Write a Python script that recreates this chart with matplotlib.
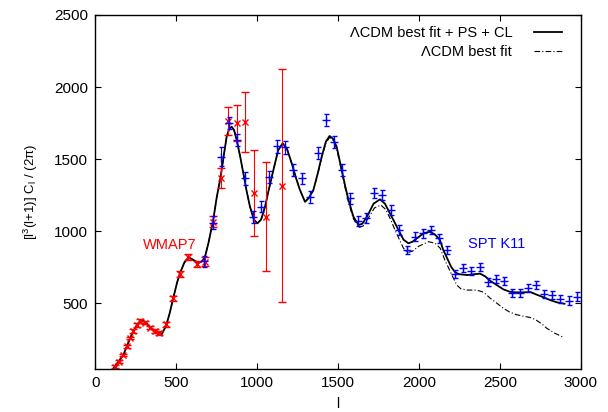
import numpy as np
import matplotlib
matplotlib.use('Agg')
import matplotlib.pyplot as plt

plt.rcParams['font.family'] = ['Liberation Sans', 'DejaVu Sans']
plt.rcParams['mathtext.fontset'] = 'custom'
plt.rcParams['mathtext.rm'] = 'Liberation Sans'
plt.rcParams['mathtext.it'] = 'Liberation Sans:italic'

# WMAP7 bandpowers (red)
wmap_l = [122, 144, 174, 195, 216, 235, 256, 277, 308, 340, 369, 391, 437, 478, 523,
          575, 627, 678, 725, 775, 822, 874, 925, 978, 1053, 1152]
wmap_d = [58, 93, 139, 201, 257, 306, 347, 375, 363, 330, 306, 290, 352, 533, 701,
          817, 771, 787, 1065, 1366, 1764, 1748, 1757, 1266, 1099, 1315]
wmap_err = [10, 10, 10, 10, 10, 11, 12, 12, 12, 12, 13, 14, 15, 16, 18,
            20, 22, 30, 40, 70, 98, 125, 210, 300, 380, 810]

# SPT K11 bandpowers (blue)
spt_l = list(range(675, 3000, 50))
spt_d = [790, 1058, 1516, 1750, 1632, 1366, 1099, 1169, 1377, 1590, 1581, 1424,
         1366, 1238, 1540, 1771, 1620, 1424, 1227, 1072, 1088, 1262, 1250, 1146,
         1007, 868, 960, 984, 1007, 949, 868, 701, 741, 724, 752, 648, 665, 655,
         572, 572, 602, 625, 560, 556, 528, 516, 544]
spt_err = [40, 43, 65, 45, 45, 45, 42, 40, 42, 45, 45, 42, 40, 40, 42, 45, 42,
           40, 38, 35, 35, 36, 36, 34, 32, 30, 30, 30, 30, 30, 28, 28, 28, 28,
           28, 28, 28, 28, 28, 28, 28, 28, 28, 28, 30, 30, 32]

# LCDM best fit + PS + CL (solid)
fit_l = [113, 144, 174, 195, 216, 235, 256, 277, 290, 310, 340, 370, 395, 410,
         437, 460, 484, 505, 523, 550, 577, 605, 638, 660, 678, 700, 729, 750,
         775, 795, 812, 828, 843, 858, 874, 895, 915, 935, 956, 980, 1002, 1025,
         1049, 1075, 1101, 1130, 1158, 1185, 1214, 1240, 1265, 1296, 1320, 1348,
         1375, 1399, 1425, 1448, 1470, 1492, 1523, 1545, 1565, 1595, 1627, 1650,
         1679, 1720, 1760, 1790, 1821, 1850, 1874, 1905, 1935, 1960, 1987, 2030,
         2069, 2100, 2130, 2150, 2175, 2200, 2225, 2250, 2300, 2340, 2378, 2410,
         2440, 2481, 2522, 2563, 2600, 2640, 2690, 2728, 2770, 2810, 2852, 2900]
fit_d = [47, 95, 140, 200, 257, 305, 345, 375, 380, 368, 330, 300, 280, 282,
         340, 430, 544, 640, 706, 780, 818, 800, 778, 790, 820, 920, 1076, 1230,
         1377, 1530, 1655, 1710, 1724, 1700, 1632, 1520, 1401, 1280, 1169, 1080,
         1053, 1080, 1169, 1300, 1424, 1560, 1609, 1570, 1470, 1370, 1285, 1203,
         1230, 1285, 1400, 1516, 1620, 1660, 1640, 1585, 1424, 1310, 1215, 1100,
         1042, 1050, 1099, 1190, 1220, 1190, 1123, 1060, 1007, 940, 915, 925, 949,
         985, 995, 975, 938, 870, 810, 750, 712, 700, 694, 700, 704, 685, 655, 625,
         595, 578, 574, 574, 576, 558, 540, 521, 505, 495]

# LCDM best fit (dash-dot), departs from the solid curve above l ~ 1350
lcdm_tail_l = [1375, 1399, 1425, 1448, 1470, 1492, 1523, 1545, 1565, 1595, 1630,
               1655, 1685, 1725, 1765, 1795, 1825, 1855, 1880, 1905, 1930, 1960,
               2000, 2060, 2100, 2132, 2160, 2183, 2210, 2234, 2260, 2300, 2357,
               2400, 2439, 2480, 2524, 2560, 2600, 2640, 2687, 2720, 2760, 2790,
               2841, 2893]
lcdm_tail_d = [1395, 1505, 1610, 1650, 1630, 1570, 1410, 1295, 1200, 1085, 1025,
               1035, 1085, 1160, 1180, 1150, 1080, 1000, 940, 880, 850, 860, 895,
               926, 915, 880, 800, 745, 680, 625, 598, 590, 590, 575, 535, 500, 462,
               438, 420, 410, 400, 385, 355, 325, 290, 262]

fit_l = np.array(fit_l)
fit_d = np.array(fit_d)
keep = fit_l < 1350
lcdm_l = np.concatenate([fit_l[keep], lcdm_tail_l])
lcdm_d = np.concatenate([fit_d[keep], lcdm_tail_d])

fig = plt.figure(figsize=(6.08, 4.12), dpi=100)
ax = fig.add_axes([0.1567, 0.1044, 0.7984, 0.8592])

line_lcdm, = ax.plot(lcdm_l, lcdm_d, color='black', lw=0.8, dashes=(5, 2, 1, 2))
line_fit, = ax.plot(fit_l, fit_d, color='black', lw=1.3)

ax.errorbar(wmap_l, wmap_d, yerr=wmap_err, fmt='x', color='red', ms=4.5, mew=1.0,
            elinewidth=0.8, capsize=3, capthick=0.8)
ax.errorbar(spt_l, spt_d, yerr=spt_err, fmt='+', color='blue', ms=5.5, mew=1.0,
            elinewidth=0.8, capsize=1.8, capthick=0.8)

ax.text(295, 903, 'WMAP7', color='red', fontsize=10.5, va='center')
ax.text(2303, 910, 'SPT K11', color='blue', fontsize=10.5, va='center')

ax.set_xlim(0, 3000)
ax.set_ylim(42, 2500)
ax.set_xticks(range(0, 3001, 500))
ax.set_yticks(range(500, 2501, 500))
ax.tick_params(direction='in', top=True, right=True, length=4, width=0.8,
               labelsize=11, pad=5)
for s in ax.spines.values():
    s.set_linewidth(1.0)

ax.set_xlabel('l', fontsize=10, labelpad=5)
ax.set_ylabel(r'[l$^{\rm 3}$(l+1)] C$_{\rm l}$ / (2π)', fontsize=9.5, labelpad=10)

leg1 = ax.legend([line_fit], ['ΛCDM best fit + PS + CL'], loc='center right',
                 bbox_to_anchor=(0.961, 0.949), frameon=False, markerfirst=False,
                 fontsize=10.5, handlelength=1.9, handletextpad=1.5, borderpad=0,
                 borderaxespad=0)
ax.add_artist(leg1)
ax.legend([line_lcdm], ['ΛCDM best fit'], loc='center right',
          bbox_to_anchor=(0.961, 0.895), frameon=False, markerfirst=False,
          fontsize=10.5, handlelength=1.9, handletextpad=1.5, borderpad=0,
          borderaxespad=0)

fig.savefig('out.png', dpi=100)
